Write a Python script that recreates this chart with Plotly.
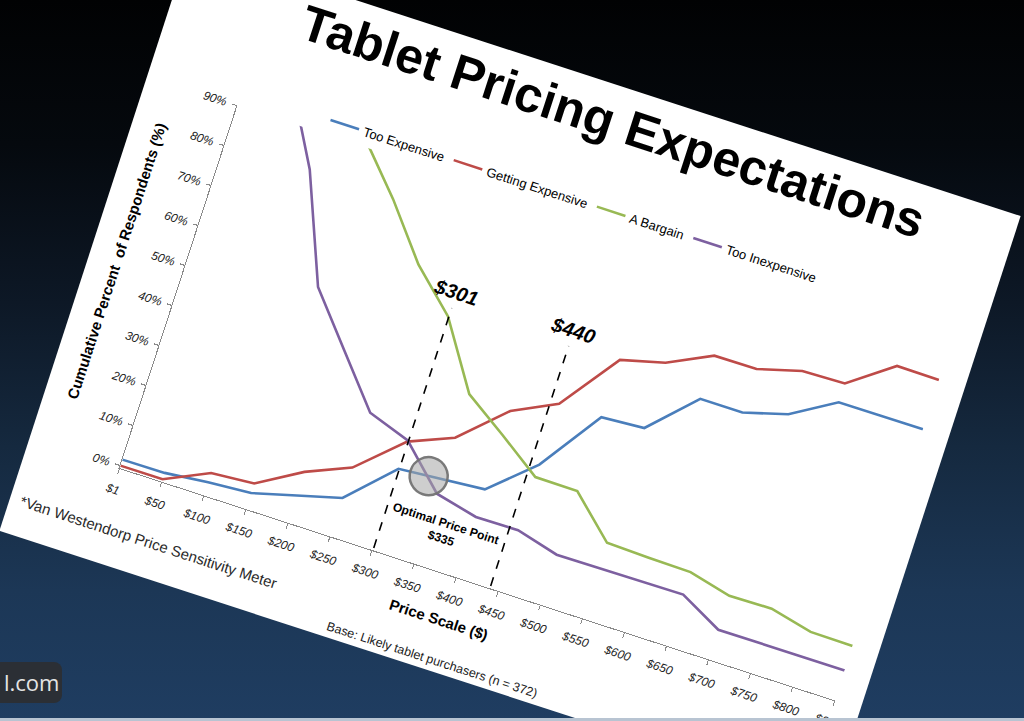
import numpy as np
import plotly.graph_objects as go

# ---------------- data ----------------
prices = [1, 50, 100, 150, 200, 250, 300, 350, 400, 450, 500, 550, 600, 650, 700, 750, 800, 850]
price_labels = ["$" + str(p) for p in prices]

too_expensive = [1.5, 1.6, 2.7, 3.4, 6.2, 9.0, 19.7, 20.5, 21.4, 31.0, 46.3, 47.0, 57.7, 57.7, 60.7, 67.1, 67.1, 67.2]
getting_expensive = [0.0, 0.0, 5.0, 5.8, 12.1, 16.6, 26.5, 30.9, 41.0, 46.2, 60.6, 63.3, 68.5, 68.6, 71.5, 71.8, 79.6, 79.5]
a_bargain = [100.0, 99.0, 97.0, 91.7, 80.3, 67.4, 57.8, 41.8, 35.0, 27.9, 27.8, 18.3, 18.0, 17.8, 15.3, 15.5, 13.1, 13.0]
too_inexpensive = [100.0, 99.5, 80.9, 54.9, 42.6, 30.3, 26.8, 16.9, 14.5, 14.6, 11.9, 12.0, 12.1, 12.2, 6.8, 6.8, 6.9, 6.9]

series_names = ["Too Expensive", "Getting Expensive", "A Bargain", "Too Inexpensive"]
series_values = [too_expensive, getting_expensive, a_bargain, too_inexpensive]
series_colors = ["#4A7EBB", "#BE4B48", "#98B954", "#7D60A0"]

y_ticks = [0, 10, 20, 30, 40, 50, 60, 70, 80, 90]
y_tick_labels = [str(v) + "%" for v in y_ticks]

threshold_prices = [301, 440]
threshold_labels = ["$301", "$440"]
optimal_price = 335
optimal_label = "Optimal Price Point<br>$335"

title_text = "Tablet Pricing Expectations"
y_title = "Cumulative Percent  of Respondents (%)"
x_title = "Price Scale ($)"
footnote_method = "*Van Westendorp Price Sensitivity Meter"
footnote_base = "Base: Likely tablet purchasers (n = 372)"

# ---------------- layout constants ----------------
W, H = 874, 615
GUIDE_TOP = 60
FONT = "Liberation Sans, Arial, sans-serif"

cat_idx = np.arange(len(prices))


def price_to_idx(p):
    return float(np.interp(p, prices, cat_idx))


fig = go.Figure()

for name, vals, col in zip(series_names, series_values, series_colors):
    fig.add_trace(go.Scatter(
        x=cat_idx, y=vals, mode="lines", name=name,
        line=dict(color=col, width=2.6), hoverinfo="skip"))

opp_x = price_to_idx(optimal_price)
opp_y = float(np.interp(opp_x, cat_idx, too_expensive))
fig.add_trace(go.Scatter(
    x=[opp_x], y=[opp_y], mode="markers", showlegend=False, hoverinfo="skip",
    marker=dict(size=38, color="rgba(165,165,165,0.55)",
                line=dict(color="rgba(115,115,115,0.95)", width=2.5))))

shapes = []
annotations = []
for p, lab in zip(threshold_prices, threshold_labels):
    xi = price_to_idx(p)
    shapes.append(dict(type="line", xref="x", yref="y", x0=xi, x1=xi, y0=0, y1=GUIDE_TOP,
                       line=dict(color="black", width=1.6, dash="dash")))
    annotations.append(dict(x=xi, y=GUIDE_TOP, xref="x", yref="y", text="<b><i>" + lab + "</i></b>",
                            showarrow=False, xanchor="center", yanchor="bottom", yshift=3,
                            font=dict(size=20, color="black", family=FONT)))


def note(x, y, text, size, color="black", angle=0):
    return dict(x=x, y=y, xref="paper", yref="paper", text=text, showarrow=False,
                xanchor="center", yanchor="middle", textangle=angle, align="center",
                font=dict(size=size, color=color, family=FONT))


annotations += [
    note(0.435, 0.105, "<b>" + optimal_label + "</b>", 12),
    note(-0.089, 0.513, "<b>" + y_title + "</b>", 15, angle=-90),
    note(0.466, -0.119, "<b>" + x_title + "</b>", 15),
    note(0.0665, -0.162, footnote_method, 15, "#2a2a2a"),
    note(0.474, -0.227, footnote_base, 12.5, "#1a1a1a"),
]

fig.update_layout(
    width=W, height=H,
    margin=dict(l=95, r=27, t=137, b=97),
    paper_bgcolor="white", plot_bgcolor="white",
    font=dict(family=FONT, color="black"),
    title=dict(text="<b>" + title_text + "</b>", x=0.523, y=0.9415, xref="container", yref="container",
               xanchor="center", yanchor="middle", font=dict(size=50, color="black", family=FONT)),
    legend=dict(orientation="h", x=0.117, xanchor="left", y=1.0, yanchor="bottom",
                font=dict(size=13, color="black", family=FONT), bgcolor="rgba(0,0,0,0)",
                itemwidth=30, traceorder="normal"),
    xaxis=dict(range=[0, len(prices) - 1], tickmode="array", tickvals=cat_idx, ticktext=price_labels,
               showgrid=False, zeroline=False, showline=True, linecolor="#8a8a8a", linewidth=1,
               ticks="outside", ticklen=5, tickcolor="#8a8a8a", ticklabelstandoff=6,
               tickfont=dict(size=12, color="#222222", family=FONT, style="italic")),
    yaxis=dict(range=[-0.6, 90], tickmode="array", tickvals=y_ticks, ticktext=y_tick_labels,
               showgrid=False, zeroline=False, showline=True, linecolor="#8a8a8a", linewidth=1,
               ticks="outside", ticklen=5, tickcolor="#8a8a8a", ticklabelstandoff=3,
               tickfont=dict(size=12, color="#222222", family=FONT, style="italic")),
    shapes=shapes,
    annotations=annotations,
)

post = """
var gd = document.getElementById('{plot_id}');
var root = document.documentElement;
root.style.margin = '0';
root.style.height = '721px';
root.style.overflow = 'hidden';
root.style.background = 'linear-gradient(180deg, #010203 0%, #05090e 20%, #0d1826 42%, #15293f 62%, #1c3756 82%, #1f3d61 100%)';
document.body.style.margin = '0';
document.body.style.overflow = 'hidden';
document.body.style.background = 'transparent';
gd.style.position = 'absolute';
gd.style.left = '73px';
gd.style.top = '65.5px';
gd.style.transformOrigin = '50% 50%';
gd.style.transform = 'rotate(18deg)';
var logo = document.createElement('div');
logo.textContent = 'l.com';
logo.style.cssText = 'position:absolute;left:-8px;top:662px;width:70px;height:41px;border-radius:8px;background:#2b2f35;color:#e4e4e4;font-family:"Open Sans",sans-serif;font-size:22px;line-height:41px;padding-left:12px;box-sizing:border-box;';
document.body.appendChild(logo);
var strip = document.createElement('div');
strip.style.cssText = 'position:absolute;left:0;top:718px;width:1024px;height:3px;background:#b8c4d2;';
document.body.appendChild(strip);
"""

fig.write_html("out.html", config={"displayModeBar": False}, post_script=post)
